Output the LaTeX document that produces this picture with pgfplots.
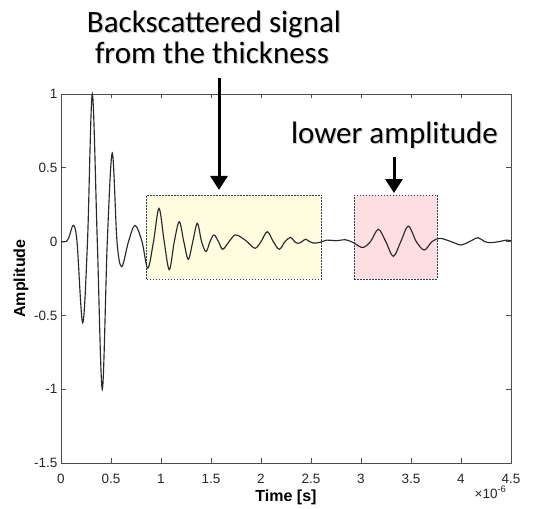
\documentclass[border=0pt]{standalone}
\usepackage{fontspec}
\setmainfont{Liberation Sans}
\newfontfamily\annot{Carlito}
\usepackage{pgfplots}
\pgfplotsset{compat=1.18}
\usetikzlibrary{arrows.meta}
\definecolor{axgray}{HTML}{4D4D4D}
\definecolor{ticktext}{HTML}{262626}
\definecolor{boxyellow}{HTML}{FFFDE0}
\definecolor{boxpink}{HTML}{FFDEE2}
\definecolor{boxedge}{HTML}{2E3F55}
\definecolor{wave}{HTML}{2A2A2A}
\newcommand\annfont{\annot\fontsize{31bp}{36bp}\selectfont}
\begin{document}
\begin{tikzpicture}
\useasboundingbox (-61bp,-46bp) rectangle (482bp,463bp);
\begin{axis}[
  scale only axis, width=450bp, height=369bp,
  xmin=0, xmax=4.5, ymin=-1.5, ymax=1,
  xtick={0,0.5,1,1.5,2,2.5,3,3.5,4,4.5},
  ytick={-1.5,-1,-0.5,0,0.5,1},
  tick align=inside, xtick pos=both, ytick pos=both,
  xticklabel pos=bottom, yticklabel pos=left,
  major tick length=4.5bp,
  axis line style={axgray, line width=0.6bp},
  tick style={axgray, line width=0.6bp},
  /pgf/number format/assume math mode=true,
  tick label style={font=\fontsize{13.5bp}{16bp}\selectfont, text=ticktext},
  xticklabel style={anchor=base, yshift=-20bp},
  xlabel={Time [s]}, ylabel={Amplitude},
  label style={font=\fontsize{16bp}{19bp}\selectfont\bfseries, text=black},
  xlabel style={at={(axis description cs:0.5,0)}, anchor=base, yshift=-38bp},
  ylabel style={at={([xshift=-40bp]axis description cs:0,0.5)}, anchor=center},
  clip=false,
]
% highlight boxes
\addplot[fill=boxyellow, draw=boxedge, line width=0.7bp, dash pattern=on 1.6bp off 1.4bp]
  coordinates {(0.857,-0.253) (2.607,-0.253) (2.607,0.316) (0.857,0.316)} -- cycle;
\addplot[fill=boxpink, draw=boxedge, line width=0.7bp, dash pattern=on 1.6bp off 1.4bp]
  coordinates {(2.933,-0.253) (3.763,-0.253) (3.763,0.316) (2.933,0.316)} -- cycle;
% waveform (time in microseconds)
\addplot[wave, line width=1.15bp, smooth, tension=0.55] table {
x y
0 0
0.05 0
0.08 0.03
0.123 0.11
0.16 0.0
0.217 -0.55
0.265 0
0.313 1.0
0.363 0
0.413 -1.0
0.463 0
0.513 0.6
0.56 0
0.607 -0.17
0.675 0
0.74 0.11
0.81 0
0.868 -0.18
0.925 0
0.98 0.225
1.032 0
1.083 -0.19
1.133 0
1.183 0.135
1.228 0
1.273 -0.12
1.318 0
1.363 0.124
1.406 0
1.45 -0.068
1.49 0
1.53 0.045
1.575 0
1.617 -0.052
1.68 0
1.74 0.045
1.80 0.03
1.86 0
1.94 -0.045
2.0 0
2.063 0.067
2.123 0
2.183 -0.052
2.24 0
2.297 0.029
2.335 0
2.373 -0.012
2.41 0
2.447 0.016
2.485 0
2.523 -0.01
2.59 -0.005
2.66 0.01
2.75 0.006
2.85 0.012
2.93 -0.01
3.017 -0.04
3.095 0
3.173 0.083
3.248 0
3.323 -0.1
3.398 0
3.473 0.105
3.553 0
3.633 -0.057
3.71 0
3.79 0.022
3.9 0
4.0 -0.023
4.085 0
4.17 0.026
4.235 0
4.3 -0.007
4.38 0
4.46 0.01
4.5 0.005
};
% exponent label
\node[anchor=base east, font=\fontsize{13.5bp}{16bp}\selectfont, text=ticktext,
      xshift=-1bp, yshift=-35bp] at (rel axis cs:1,0) {×10\textsuperscript{-6}};
% annotations
\node[anchor=base, font=\annfont, text=gray, opacity=0.4, xshift=1.2bp, yshift=-1.5bp] at (axis cs:1.53,1.42) {Backscattered signal};
\node[anchor=base, font=\annfont] at (axis cs:1.53,1.42) {Backscattered signal};
\node[anchor=base, font=\annfont, text=gray, opacity=0.4, xshift=1.2bp, yshift=-1.5bp] at (axis cs:1.51,1.21) {from the thickness};
\node[anchor=base, font=\annfont] at (axis cs:1.51,1.21) {from the thickness};
\node[anchor=base, font=\annfont, text=gray, opacity=0.4, xshift=1.2bp, yshift=-1.5bp] at (axis cs:3.335,0.668) {lower amplitude};
\node[anchor=base, font=\annfont] at (axis cs:3.335,0.668) {lower amplitude};
\draw[line width=3bp, -{Triangle[width=17bp,length=14bp]}] (axis cs:1.58,1.108) -- (axis cs:1.58,0.35);
\draw[line width=3bp, -{Triangle[width=17bp,length=14bp]}] (axis cs:3.33,0.573) -- (axis cs:3.33,0.329);
\end{axis}
\end{tikzpicture}
\end{document}
